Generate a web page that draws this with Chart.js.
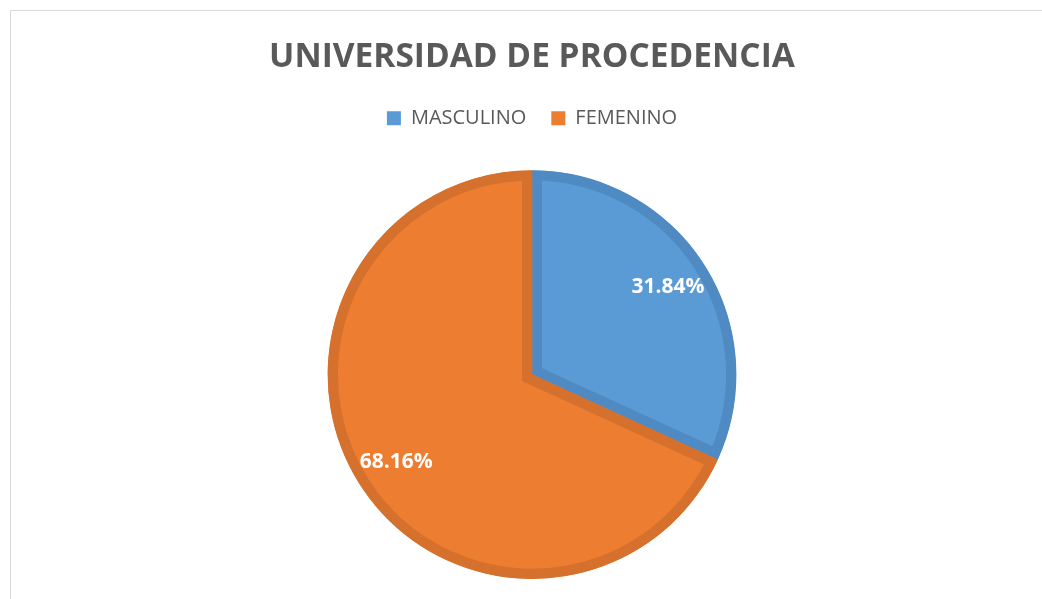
<!DOCTYPE html>
<html>
<head>
<meta charset="utf-8">
<script src="https://cdn.jsdelivr.net/npm/chart.js@4/dist/chart.umd.min.js"></script>
<style>
  html, body { margin: 0; padding: 0; background: #ffffff; overflow: hidden; }
  #c { display: block; }
</style>
</head>
<body>
<canvas id="c" width="1042" height="599"></canvas>
<script>
const titleText = 'UNIVERSIDAD DE PROCEDENCIA';
const categories = ['MASCULINO', 'FEMENINO'];
const values = [31.84, 68.16];
const fillColors = ['#5b9bd5', '#ed7d31'];
const edgeColors = ['#4f8ac3', '#d5712c'];

const framePlugin = {
  id: 'frame',
  afterInit(chart) {
    // extra empty space under the legend, before the pie
    const lg = chart.legend;
    if (lg) {
      const origFit = lg.fit.bind(lg);
      lg.fit = function () { origFit(); this.height += 32; };
    }
  },
  beforeDraw(chart) {
    const ctx = chart.ctx;
    ctx.save();
    ctx.fillStyle = '#ffffff';
    ctx.fillRect(0, 0, chart.width, chart.height);
    ctx.strokeStyle = '#d9d9d9';
    ctx.lineWidth = 1;
    ctx.beginPath();
    ctx.moveTo(10.5, chart.height);
    ctx.lineTo(10.5, 10.5);
    ctx.lineTo(chart.width, 10.5);
    ctx.stroke();
    ctx.restore();
  }
};

const labelPlugin = {
  id: 'sliceLabels',
  afterDatasetsDraw(chart) {
    const ctx = chart.ctx;
    const meta = chart.getDatasetMeta(0);
    ctx.save();
    ctx.fillStyle = '#ffffff';
    ctx.font = 'bold 21px "Open Sans"';
    ctx.textAlign = 'center';
    ctx.textBaseline = 'middle';
    meta.data.forEach((arc, i) => {
      const p = arc.getProps(['x', 'y', 'startAngle', 'endAngle', 'outerRadius'], true);
      const mid = (p.startAngle + p.endAngle) / 2;
      const r = p.outerRadius * 0.79;
      ctx.fillText(values[i].toFixed(2) + '%', p.x + Math.cos(mid) * r, p.y + Math.sin(mid) * r);
    });
    ctx.restore();
  }
};

new Chart(document.getElementById('c'), {
  type: 'pie',
  data: {
    labels: categories,
    datasets: [{
      data: values,
      backgroundColor: fillColors,
      borderColor: edgeColors,
      borderWidth: 10,
      borderAlign: 'inner',
      borderJoinStyle: 'miter',
      hoverOffset: 0
    }]
  },
  options: {
    responsive: false,
    animation: false,
    events: [],
    layout: { padding: { left: 22, right: 0, top: 0, bottom: 20 } },
    plugins: {
      tooltip: { enabled: false },
      title: {
        display: true,
        text: titleText,
        color: '#595959',
        font: { family: '"Open Sans"', size: 33.5, weight: 'bold' },
        padding: { top: 37, bottom: 6 }
      },
      legend: {
        display: true,
        position: 'top',
        labels: {
          color: '#595959',
          font: { family: '"Open Sans"', size: 20 },
          boxWidth: 14,
          boxHeight: 14,
          padding: 25,
          generateLabels(chart) {
            const base = Chart.overrides.pie.plugins.legend.labels.generateLabels(chart);
            return base.map(l => Object.assign(l, { lineWidth: 0, strokeStyle: l.fillStyle }));
          }
        }
      }
    }
  },
  plugins: [framePlugin, labelPlugin]
});
</script>
</body>
</html>
